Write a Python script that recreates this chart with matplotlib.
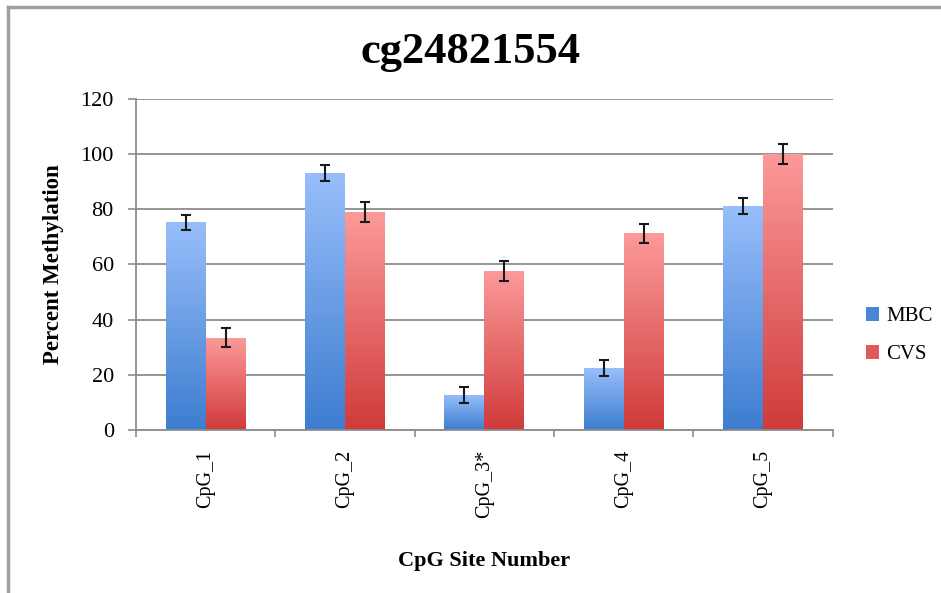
import matplotlib
matplotlib.use('Agg')
import matplotlib.pyplot as plt
from matplotlib.colors import LinearSegmentedColormap
from matplotlib.lines import Line2D
import numpy as np

sites = ['CpG_1', 'CpG_2', 'CpG_3*', 'CpG_4', 'CpG_5']
mbc = [75.3, 93.2, 12.7, 22.4, 81.1]
mbc_err = [2.8, 3.0, 2.9, 2.9, 2.9]
cvs = [33.5, 79.0, 57.5, 71.3, 100.1]
cvs_err = [3.5, 3.6, 3.6, 3.5, 3.5]

plt.rcParams['font.family'] = ['Liberation Serif', 'DejaVu Serif']

fig = plt.figure(figsize=(9.41, 5.93), dpi=100)
ax = fig.add_axes([0.1445, 0.2749, 0.7405, 0.5582])

x = np.arange(len(sites))
w = 0.287

blue_cm = LinearSegmentedColormap.from_list('b', ['#3d7dd0', '#98befa'])
red_cm = LinearSegmentedColormap.from_list('r', ['#d03a3a', '#fc9a9a'])
grad = np.linspace(0, 1, 256).reshape(-1, 1)

def grad_bars(xs, vals, cmap, label, col):
    # plain bar for the legend, gradient image clipped on top of it
    bars = ax.bar(xs, vals, w, color=col, label=label, zorder=2)
    for b in bars:
        x0 = b.get_x()
        h = b.get_height()
        im = ax.imshow(grad, cmap=cmap, origin='lower', aspect='auto',
                       extent=(x0, x0 + b.get_width(), 0, h), zorder=2.5)
        im.set_clip_path(b)
    return bars

grad_bars(x - w / 2, mbc, blue_cm, 'MBC', '#4a86d6')
grad_bars(x + w / 2, cvs, red_cm, 'CVS', '#e05a5a')

ax.errorbar(x - w / 2, mbc, yerr=mbc_err, fmt='none', ecolor='#1a1a1a',
            elinewidth=1.5, capsize=3.5, capthick=1.5, zorder=4)
ax.errorbar(x + w / 2, cvs, yerr=cvs_err, fmt='none', ecolor='#1a1a1a',
            elinewidth=1.5, capsize=3.5, capthick=1.5, zorder=4)

ax.set_xlim(-0.5, len(sites) - 0.5)
ax.set_ylim(0, 120)
ax.set_yticks(range(0, 121, 20))
ax.yaxis.grid(True, color='#8c8c8c', linewidth=1.3, zorder=0)
ax.set_axisbelow(True)

ax.set_xticks(x)
ax.set_xticklabels(sites, rotation=90, fontsize=14.5)
ax.set_xticks(np.arange(len(sites) + 1) - 0.5, minor=True)
ax.tick_params(axis='x', which='major', length=0, pad=14)
ax.tick_params(axis='x', which='minor', length=5, color='#8c8c8c', width=1.2)
ax.tick_params(axis='y', length=6, color='#8c8c8c', width=1.2, labelsize=16, pad=10)

for s in ['top', 'right']:
    ax.spines[s].set_visible(False)
for s in ['left', 'bottom']:
    ax.spines[s].set_color('#8c8c8c')
    ax.spines[s].set_linewidth(1.3)

ax.set_ylabel('Percent Methylation', fontsize=16.5, fontweight='bold', labelpad=12)
ax.set_xlabel('CpG Site Number', fontsize=16, fontweight='bold', labelpad=24)
fig.text(0.5, 0.913, 'cg24821554', ha='center', va='center', fontsize=32, fontweight='bold')

ax.legend(loc='center left', bbox_to_anchor=(1.047, 0.285), frameon=False,
          fontsize=15, handlelength=0.65, handleheight=0.65, handletextpad=0.35,
          labelspacing=0.9, borderpad=0, borderaxespad=0)

fig.add_artist(Line2D([0.008, 1.0], [0.989, 0.989], color='#a0a0a0', lw=2.5))
fig.add_artist(Line2D([0.008, 0.008], [0.0, 0.989], color='#a0a0a0', lw=2.5))

fig.savefig('out.png', dpi=100)
